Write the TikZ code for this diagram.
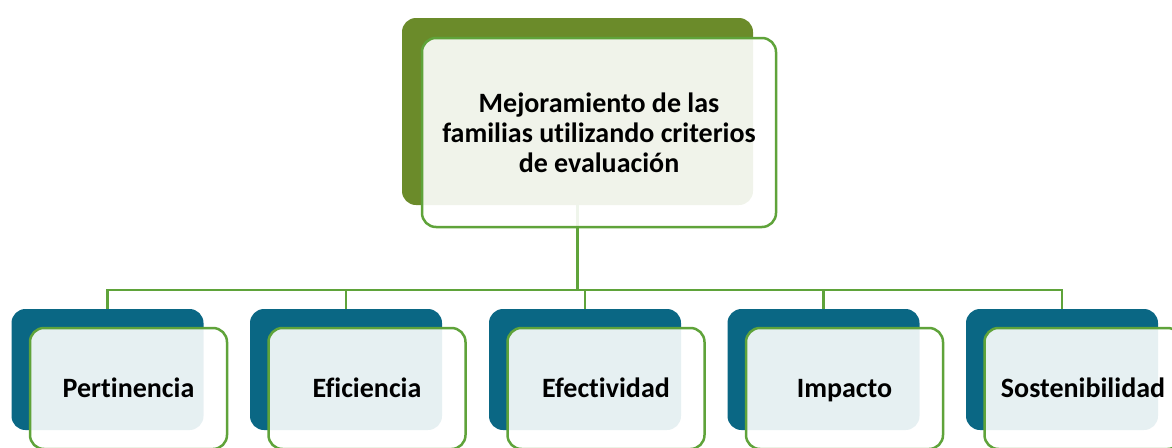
\documentclass[tikz,border=0pt]{standalone}
\usepackage{fontspec}
\setmainfont{Carlito}[Ligatures=NoCommon]
\definecolor{oliveback}{HTML}{6B8B2A}
\definecolor{tealback}{HTML}{0A6784}
\definecolor{leafline}{HTML}{5FA33A}
\tikzset{
  backbox/.style={rounded corners=14pt, inner sep=0pt},
  card/.style={draw=leafline, line width=2.5pt, rounded corners=14pt,
    fill=white, fill opacity=0.9, text opacity=1, inner sep=0pt,
    font=\bfseries\fontsize{28}{30}\selectfont},
  topcard/.style={card, align=center, minimum width=354pt, minimum height=189pt},
  leafcard/.style={card, minimum width=197pt, minimum height=121pt,
    text height=22pt, text depth=5pt},
  conn/.style={draw=leafline, line width=2.5pt}
}
\begin{document}
\begin{tikzpicture}[x=1pt,y=-1pt]
  \clip (0,0) rectangle (1172,447);
  % back plates
  \node[backbox, fill=oliveback, minimum width=351pt, minimum height=187pt] (topback) at (577.5,111.5) {};
  \node[backbox, fill=tealback, minimum width=192pt, minimum height=121pt] (perback) at (107.5,369.5) {};
  \node[backbox, fill=tealback, minimum width=192pt, minimum height=121pt] (efiback) at (346,369.5) {};
  \node[backbox, fill=tealback, minimum width=192pt, minimum height=121pt] (efeback) at (585,369.5) {};
  \node[backbox, fill=tealback, minimum width=192pt, minimum height=121pt] (impback) at (823.5,369.5) {};
  \node[backbox, fill=tealback, minimum width=192pt, minimum height=121pt] (sosback) at (1062,369.5) {};
  % connectors
  \coordinate (bus) at (577.5,290);
  \draw[conn] (topback.south) -- (bus);
  \draw[conn] (bus) -| (perback.north);
  \draw[conn] (bus) -| (efiback.north);
  \draw[conn] (bus) -| (efeback.north);
  \draw[conn] (bus) -| (impback.north);
  \draw[conn] (bus) -| (sosback.north);
  % front cards
  \node[topcard] (top) at (599,132.5)
    {Mejoramiento de las\\familias utilizando criterios\\de evaluación};
  \node[leafcard] (per) at (128.5,388.5) {Pertinencia};
  \node[leafcard] (efi) at (367,388.5) {Eficiencia};
  \node[leafcard] (efe) at (606,388.5) {Efectividad};
  \node[leafcard] (imp) at (844.5,388.5) {Impacto};
  \node[leafcard] (sos) at (1083,388.5) {Sostenibilidad};
\end{tikzpicture}
\end{document}
